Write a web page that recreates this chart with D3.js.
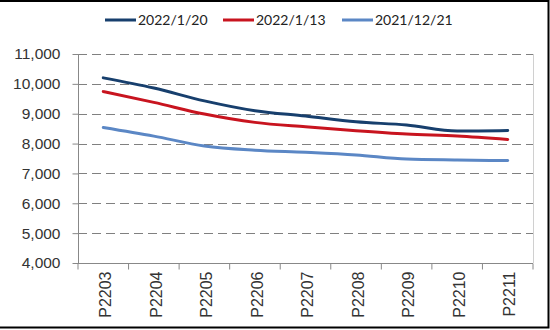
<!DOCTYPE html>
<html><head><meta charset="utf-8">
<script src="https://cdn.jsdelivr.net/npm/d3@7"></script>
<style>body{margin:0;background:#fff}svg{display:block}</style>
</head><body>
<svg id="c" width="550" height="330"></svg>
<script>
const categories = ["P2203","P2204","P2205","P2206","P2207","P2208","P2209","P2210","P2211"];
const seriesNames = ["2022/1/20","2022/1/13","2021/12/21"];
const s20220120 = [10200, 9860, 9430, 9100, 8920, 8730, 8620, 8420, 8440];
const s20220113 = [9740, 9380, 8990, 8710, 8560, 8430, 8320, 8250, 8140];
const s20211221 = [8540, 8250, 7920, 7780, 7710, 7620, 7480, 7450, 7430];
const yTicks = [4000,5000,6000,7000,8000,9000,10000,11000];
const colors = ["#173f6d","#c8141f","#5b87c5"];
const seriesValues = [s20220120, s20220113, s20211221];

const svg = d3.select("#c");
const L = 78, R = 533, T = 54, B = 263;
const x = d3.scaleBand().domain(categories).range([L, R]);
const y = d3.scaleLinear().domain([4000, 11000]).range([B, T]);

// outer frame (top, right, bottom)
svg.append("path").attr("d","M0,1H548.5V327.5H0").attr("fill","none").attr("stroke","#000").attr("stroke-width",2);

// grid
svg.append("g").selectAll("line").data(yTicks.filter(d=>d>4000)).join("line")
  .attr("x1", L).attr("x2", R).attr("y1", d=>Math.round(y(d))+0.5).attr("y2", d=>Math.round(y(d))+0.5)
  .attr("stroke","#808080").attr("stroke-width",1).attr("stroke-dasharray","9,5");

// right border of plot
svg.append("line").attr("x1",R+0.5).attr("x2",R+0.5).attr("y1",T).attr("y2",B).attr("stroke","#d0d0d0");

// y axis
const ya = svg.append("g").attr("transform",`translate(${L+0.5},0)`)
  .call(d3.axisLeft(y).tickValues(yTicks).tickSize(6).tickPadding(12).tickFormat(d3.format(",")));
ya.selectAll("path,line").attr("stroke","#888");
ya.select(".domain").attr("d",`M0,${T}V${B}`);
ya.selectAll("text").attr("font-family","Liberation Sans, Arial, sans-serif").attr("font-size",15.5).attr("fill","#333");

// x axis
const xa = svg.append("g").attr("transform",`translate(0,${B+0.5})`)
  .call(d3.axisBottom(x).tickSize(0).tickPadding(0));
xa.select(".domain").attr("stroke","#888").attr("d",`M${L},0H${R}`);
xa.selectAll("g.tick").append("line").attr("x1",-x.bandwidth()/2).attr("x2",-x.bandwidth()/2).attr("y1",0).attr("y2",6).attr("stroke","#888");
xa.append("line").attr("x1",R).attr("x2",R).attr("y1",0).attr("y2",6).attr("stroke","#888");
xa.selectAll("text").attr("font-family","Liberation Sans, Arial, sans-serif").attr("font-size",16).attr("fill","#333")
  .attr("transform","rotate(-90)").attr("text-anchor","end").attr("dy","0.36em").attr("x",-8).attr("y",2);

// lines
const line = d3.line().x((d,i)=>x(categories[i])+x.bandwidth()/2).y(d=>y(d)).curve(d3.curveMonotoneX);
svg.append("g").selectAll("path").data(seriesValues).join("path")
  .attr("d", line).attr("fill","none").attr("stroke",(d,i)=>colors[i]).attr("stroke-width",3).attr("stroke-linecap","round");

// legend
const legX = [105, 223, 342];
const lg = svg.append("g").selectAll("g").data(seriesNames).join("g").attr("transform",(d,i)=>`translate(${legX[i]},20)`);
lg.append("line").attr("x1",0).attr("x2",31).attr("stroke",(d,i)=>colors[i]).attr("stroke-width",3);
lg.append("text").attr("x",33).attr("dy","0.35em").text(d=>d)
  .attr("font-family","Lato, Carlito, sans-serif").attr("font-size",14).attr("fill","#222");
</script>
</body></html>
